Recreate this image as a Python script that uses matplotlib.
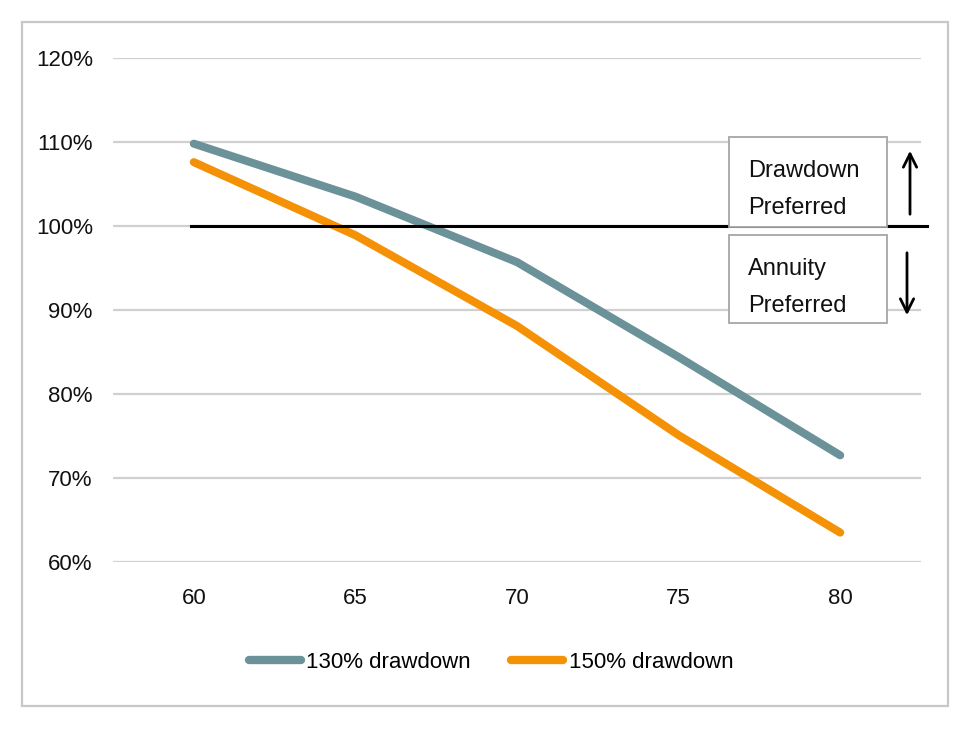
import matplotlib
matplotlib.use("Agg")
import matplotlib.pyplot as plt
from matplotlib.patches import Rectangle, FancyArrowPatch
from matplotlib.ticker import FuncFormatter

plt.rcParams['font.family'] = ['Liberation Sans', 'DejaVu Sans']

# data
ages = ["60", "65", "70", "75", "80"]
drawdown_130 = [109.8, 103.5, 95.7, 84.4, 72.7]
drawdown_150 = [107.6, 98.9, 88.1, 75.1, 63.5]
y_ticks = [60, 70, 80, 90, 100, 110, 120]

W, H = 966, 729


def fx(px):
    return px / W


def fy(py):
    return 1 - py / H


fig = plt.figure(figsize=(W / 100, H / 100), dpi=100)
ax = fig.add_axes([fx(113), fy(562), fx(921) - fx(113), fy(58) - fy(562)])

x = range(len(ages))
ax.plot(x, drawdown_130, color="#6b9299", lw=5.8, solid_capstyle="round",
        label="130% drawdown", zorder=3)
ax.plot(x, drawdown_150, color="#f59105", lw=5.8, solid_capstyle="round",
        label="150% drawdown", zorder=3)

# 100% break-even line
ax.plot([-0.02, 4.54], [100, 100], color="black", lw=2.2, clip_on=False, zorder=4)

ax.set_xlim(-0.5, 4.5)
ax.set_ylim(60, 120)
ax.set_xticks(list(x))
ax.set_xticklabels(ages)
ax.set_yticks(y_ticks)
ax.yaxis.set_major_formatter(FuncFormatter(lambda v, p: f"{v:.0f}%"))
ax.grid(axis="y", color="#d0d0d0", lw=1.6)
ax.set_axisbelow(True)
for s in ax.spines.values():
    s.set_visible(False)
ax.tick_params(length=0, labelsize=16, colors="#111111")
ax.tick_params(axis="y", pad=14.5)
ax.tick_params(axis="x", pad=19)

leg = ax.legend(loc="center", bbox_to_anchor=(fx(491), fy(662)),
                bbox_transform=fig.transFigure, ncol=2, frameon=False,
                fontsize=16, handlelength=2.35, handletextpad=0.25,
                columnspacing=1.8)
for h in leg.get_lines():
    h.set_linewidth(6)
    h.set_solid_capstyle("round")

# outer chart border
fig.patches.append(Rectangle((fx(22), fy(706)), fx(948) - fx(22), fy(22) - fy(706),
                             transform=fig.transFigure, fill=False,
                             edgecolor="#c8c8c8", lw=1.6))

# annotation boxes
for top, bot, lines in [(137, 227, ["Drawdown", "Preferred"]),
                        (235, 323, ["Annuity", "Preferred"])]:
    fig.patches.append(Rectangle((fx(729), fy(bot)), fx(887) - fx(729), fy(top) - fy(bot),
                                 transform=fig.transFigure, facecolor="white",
                                 edgecolor="#a6a6a6", lw=1.3, zorder=5))
    fig.text(fx(748), fy(top + 34), lines[0], fontsize=17, va="center", ha="left",
             color="#111111", zorder=6)
    fig.text(fx(748), fy(top + 71), lines[1], fontsize=17, va="center", ha="left",
             color="#111111", zorder=6)

# arrows
for x0, y0, y1 in [(910, 217, 148), (907, 250, 318)]:
    fig.patches.append(FancyArrowPatch((fx(x0), fy(y0)), (fx(x0), fy(y1)),
                                       transform=fig.transFigure,
                                       arrowstyle="->,head_length=6,head_width=3",
                                       color="black", lw=2.0, mutation_scale=1.6))

fig.savefig("out.png", dpi=100)
